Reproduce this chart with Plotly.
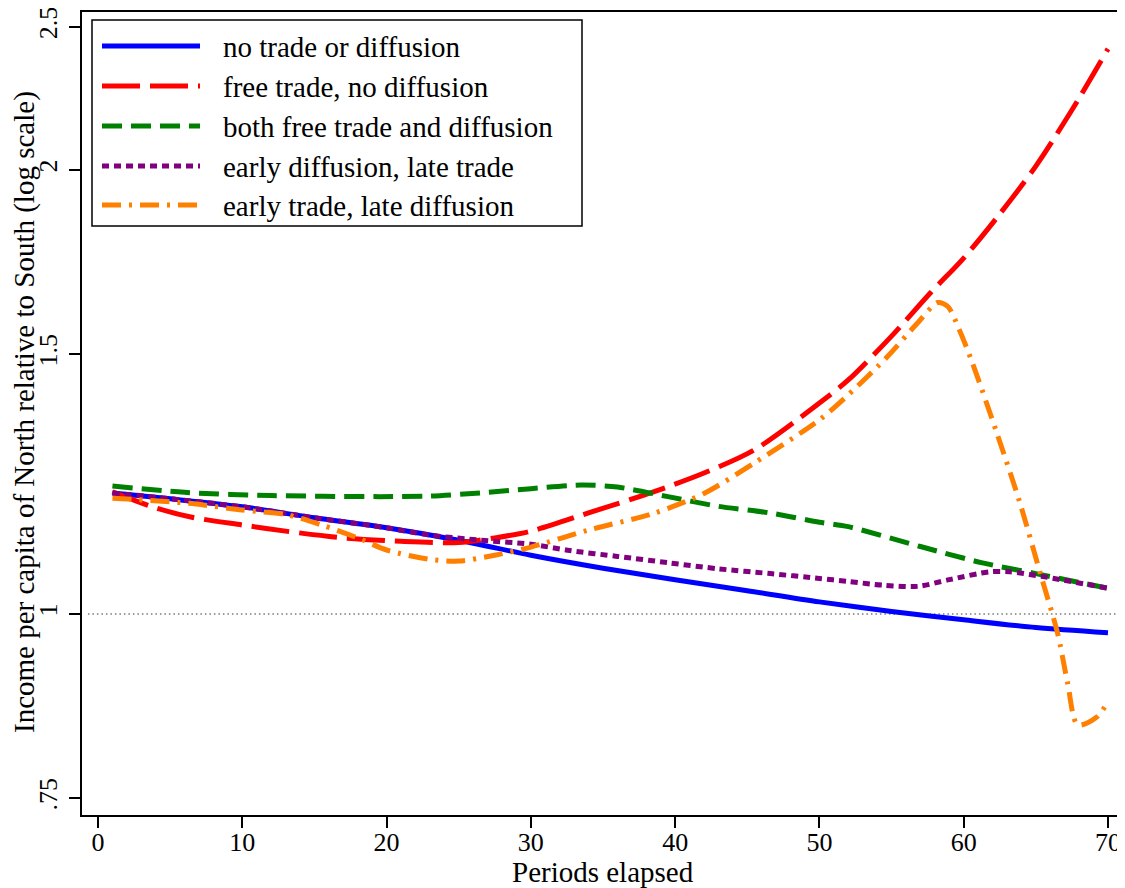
import plotly.graph_objects as go

# ---------------- data ----------------
t_none = [1, 5, 10, 15, 20, 25, 30, 35, 40, 45, 50, 55, 60, 65, 70]
v_none = [1.208, 1.197, 1.182, 1.162, 1.144, 1.122, 1.096, 1.074, 1.055, 1.037,
          1.019, 1.004, 0.991, 0.979, 0.971]

t_trade = [1, 4, 6.5, 10, 13, 17, 21, 25, 27.5, 30, 34, 38.5, 42, 45.5, 50, 52, 55,
           57.7, 60, 62.5, 65, 67.5, 70]
v_trade = [1.21, 1.180, 1.163, 1.149, 1.138, 1.126, 1.120, 1.118, 1.126, 1.138, 1.171,
           1.210, 1.246, 1.292, 1.390, 1.441, 1.543, 1.651, 1.743, 1.867, 2.012, 2.196, 2.416]

t_both = [1, 6, 12, 19.5, 23, 26.5, 30, 33.5, 36, 39.5, 43, 46.5, 50, 52, 57, 61.3, 65, 70]
v_both = [1.221, 1.209, 1.203, 1.201, 1.202, 1.208, 1.216, 1.223, 1.219, 1.201, 1.183,
          1.171, 1.154, 1.146, 1.111, 1.083, 1.065, 1.041]

t_diff = [1, 5, 10, 15, 20, 23, 26.5, 30, 32.7, 36, 39.6, 43, 46.6, 50, 52, 54.4, 56.8,
          59, 61.8, 63.2, 65.5, 70]
v_diff = [1.208, 1.197, 1.182, 1.162, 1.144, 1.131, 1.122, 1.115, 1.104, 1.094, 1.083,
          1.073, 1.065, 1.057, 1.052, 1.046, 1.044, 1.055, 1.068, 1.068, 1.060, 1.041]

t_early = [1, 6.5, 10, 13, 15.5, 18, 20, 23, 25, 27.5, 30, 34, 38.5, 42, 45.5, 50, 52,
           54.7, 56.8, 58.2, 58.9, 59.7, 60.6, 62.3, 63.9, 65.3, 66.5, 67.2, 67.9, 69.2, 70]
v_early = [1.198, 1.188, 1.176, 1.168, 1.149, 1.126, 1.105, 1.089, 1.086, 1.096, 1.110,
           1.140, 1.170, 1.207, 1.266, 1.354, 1.408, 1.494, 1.575, 1.626, 1.616, 1.558,
           1.480, 1.326, 1.189, 1.066, 0.971, 0.898, 0.841, 0.851, 0.872]

labels = ["no trade or diffusion", "free trade, no diffusion",
          "both free trade and diffusion", "early diffusion, late trade",
          "early trade, late diffusion"]
colors = ["#0000ff", "#ff0000", "#008000", "#800080", "#ff8000"]
dashes = ["solid", "38px,10px", "20px,9px", "7px,5px", "19px,8px,3px,8px"]

y_ticks = [0.75, 1, 1.5, 2, 2.5]
y_tick_text = [".75", "1", "1.5", "2", "2.5"]
x_ticks = [0, 10, 20, 30, 40, 50, 60, 70]

x_title = "Periods elapsed"
y_title = "Income per capita of North relative to South (log scale)"

series = [(t_none, v_none), (t_trade, v_trade), (t_both, v_both),
          (t_diff, v_diff), (t_early, v_early)]

FONT = "Liberation Serif"
FS = 29
TFS = 26

fig = go.Figure()

# reference line at 1
fig.add_trace(go.Scatter(x=[-0.7, 71.04], y=[1, 1], mode="lines",
                         line=dict(color="#999999", width=2, dash="1.5px,3px"),
                         hoverinfo="skip", showlegend=False))

for (tt, vv), name, c, d in zip(series, labels, colors, dashes):
    fig.add_trace(go.Scatter(x=tt, y=vv, name=name, mode="lines",
                             line=dict(color=c, width=5, dash=d, shape="spline", smoothing=0.8),
                             showlegend=False))

# ---------------- manual legend ----------------
# plot area in page pixels: x 82..1123, y 12..815
def px(x):
    return (x - 82) / 1041.0

def py(y):
    return (815 - y) / 803.0

shapes = [dict(type="rect", xref="paper", yref="paper", x0=px(92), x1=px(582),
               y0=py(226), y1=py(20), line=dict(color="black", width=1.5),
               fillcolor="white", layer="above")]
annotations = []
rows = [46, 86, 126, 166, 205]
for r, name, c, d in zip(rows, labels, colors, dashes):
    shapes.append(dict(type="line", xref="paper", yref="paper", x0=px(102), x1=px(200),
                       y0=py(r), y1=py(r), line=dict(color=c, width=5, dash=d),
                       layer="above"))
    annotations.append(dict(xref="paper", yref="paper", x=px(221), y=py(r + 1), text=name,
                            showarrow=False, xanchor="left", yanchor="middle",
                            font=dict(family=FONT, size=FS, color="black")))

# axis titles
annotations.append(dict(xref="paper", yref="paper", x=px(603), y=py(872), text=x_title,
                        showarrow=False, xanchor="center", yanchor="middle",
                        font=dict(family=FONT, size=FS, color="black")))
annotations.append(dict(xref="paper", yref="paper", x=px(24), y=py(412), text=y_title,
                        showarrow=False, xanchor="center", yanchor="middle", textangle=-90,
                        font=dict(family=FONT, size=FS, color="black")))

# the page places the figure 8px in from the top-left corner
fig.update_layout(
    width=1117, height=880,
    margin=dict(l=74, r=2, t=4, b=73, autoexpand=False),
    plot_bgcolor="white", paper_bgcolor="white",
    font=dict(family=FONT, size=FS, color="black"),
    shapes=shapes, annotations=annotations,
    showlegend=False,
)
fig.update_xaxes(range=[-1.11, 71.04], tickvals=x_ticks, ticks="outside", ticklen=11,
                 tickwidth=1.5, tickcolor="black", showline=True, mirror=True,
                 linecolor="black", linewidth=2, showgrid=False, zeroline=False,
                 automargin=False, ticklabeloverflow="allow", ticklabelstandoff=-8,
                 tickfont=dict(family=FONT, size=TFS))
fig.update_yaxes(type="log", range=[-0.1363, 0.4081], tickvals=y_ticks,
                 ticktext=y_tick_text, tickangle=-90, ticks="outside", ticklen=11,
                 tickwidth=1.5, tickcolor="black", showline=True, mirror=True,
                 linecolor="black", linewidth=2, showgrid=False, zeroline=False,
                 automargin=False, ticklabeloverflow="allow", ticklabelstandoff=2,
                 tickfont=dict(family=FONT, size=TFS))

fig.write_html("out.html")
